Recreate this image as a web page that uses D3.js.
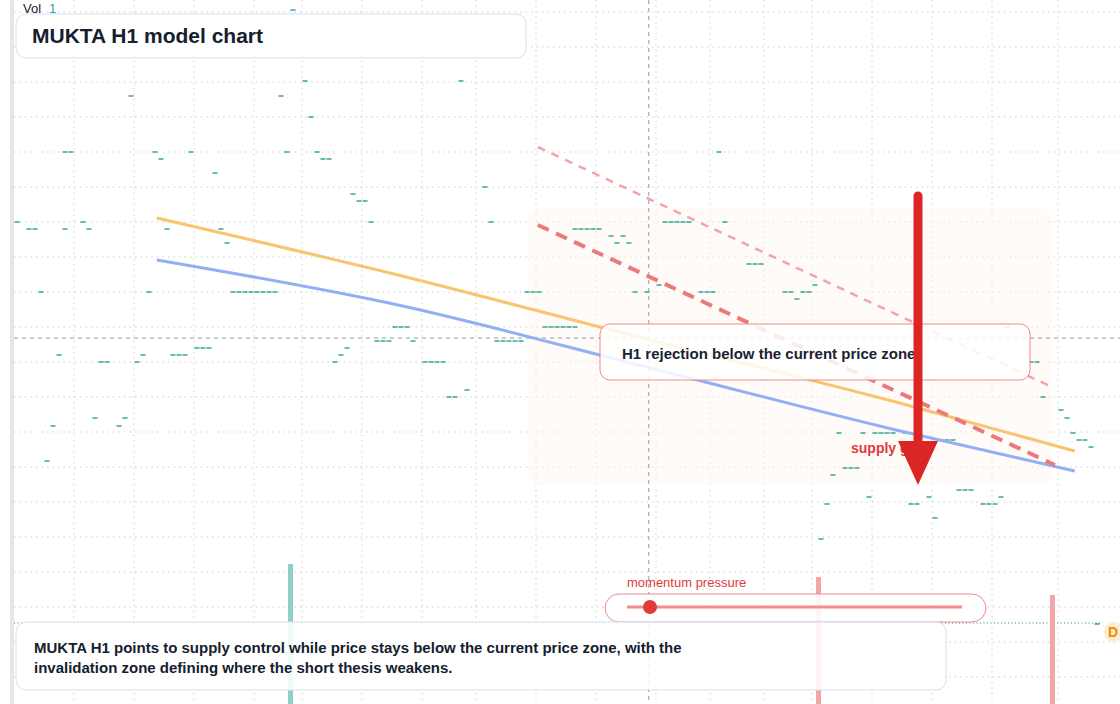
<!DOCTYPE html>
<html><head><meta charset="utf-8">
<script src="https://cdn.jsdelivr.net/npm/d3@7"></script>
<style>body{margin:0;background:#fff;font-family:"Liberation Sans",Arial,sans-serif}</style>
</head><body><svg id="c" width="1120" height="704"></svg>
<script>
// price ticks (bar index start, run length, price)
const candleIdx   = [46,19,44,48,74,49,8,23,29,45,50,117,51,24,33,78,56,57,0,11,59,79,108,118,2,8,12,25,34,93,99,101,35,100,102,122,107,133,4,22,36,85,103,105,114,128,131,130,63,88,165,60,66,80,30,55,7,21,26,54,14,20,53,68,169,75,72,171,174,175,13,18,6,17,176,137,141,143,148,154,177,179,5,138,136,157,142,152,164,135,149,161,153,134,180];
const candleLen   = [1,1,1,1,1,1,2,1,1,1,1,1,2,1,1,1,1,2,1,1,1,1,5,1,2,1,1,1,1,5,1,1,1,1,1,3,1,1,1,1,8,3,1,1,3,2,2,1,3,6,1,3,1,5,3,1,1,1,3,1,2,1,1,4,2,1,2,1,1,1,1,1,1,1,1,1,1,4,1,3,2,1,1,3,1,3,1,1,1,1,2,3,1,1,1];
const candlePrice = [69.4,60.8,60.8,62.3,62.3,58.7,55.2,55.2,55.2,55.2,55.2,55.2,54.5,54.5,53.1,51.7,51.0,50.3,48.2,48.2,48.2,48.2,48.2,48.2,47.5,47.5,47.5,47.5,47.5,47.5,46.8,46.8,46.1,46.1,46.1,44.0,41.9,41.9,41.2,41.2,41.2,41.2,41.2,41.2,41.2,41.2,41.2,40.5,37.7,37.7,37.7,36.3,36.3,36.3,35.6,35.6,34.9,34.9,34.9,34.9,34.2,34.2,34.2,34.2,34.2,31.4,30.7,30.7,29.4,28.6,28.6,28.6,27.8,27.8,27.1,27.1,27.1,27.1,27.1,26.4,26.4,25.7,24.3,23.6,22.9,21.4,20.7,20.7,20.7,20.0,20.0,20.0,18.6,16.5,8.0];
// volume
const volIdx = [46,134,173];
const volVal = [140,127,109];
const volColor = ['#8fd0c6','#f4a6a6','#f4a6a6'];
// model curves
const curveIdx    = [23.8,64,106,147,176.8];
const orangePrice = [48.6,42.9,36.4,30.2,25.3];
const bluePrice   = [44.4,39.9,33.6,27.4,23.3];
const redDash  = [[87.3,47.9],[173.5,23.9]];
const pinkDash = [[87.3,55.7],[173,31.7]];
const gridIdx = [10,20,30,40,48,58,68,77,87,97,107,116,125,133,143,153,163,174];
const gridPrice = d3.range(0,20).map(i => 69.2 - 3.5*i);

const svg = d3.select('#c');
const x = d3.scaleLinear().domain([0,1]).range([14,20]);
const y = d3.scaleLinear().domain([0,70.4]).range([704,0]);
const v = d3.scaleLinear().domain([0,140]).range([0,140]);

svg.append('rect').attr('x',10).attr('y',0).attr('width',4).attr('height',704).attr('fill','#e6e6e6');

// grid
svg.append('g').selectAll('line').data(gridIdx).join('line')
  .attr('x1',d=>x(d)).attr('x2',d=>x(d)).attr('y1',0).attr('y2',704)
  .attr('stroke','#cfcfcf').attr('stroke-dasharray','1.5,4');
svg.append('g').selectAll('line').data(gridPrice).join('line')
  .attr('x1',14).attr('x2',1120).attr('y1',d=>y(d)).attr('y2',d=>y(d))
  .attr('stroke','#cfcfcf').attr('stroke-dasharray','1.5,4');

// zone
svg.append('rect').attr('x',x(85.5)).attr('y',y(49.6)).attr('width',x(173)-x(85.5)).attr('height',y(21.9)-y(49.6))
  .attr('rx',14).attr('fill','#fdf6f0').attr('opacity',0.45);

// crosshair
svg.append('line').attr('x1',x(105.8)).attr('x2',x(105.8)).attr('y1',0).attr('y2',704)
  .attr('stroke','#999').attr('stroke-dasharray','4,4');
svg.append('line').attr('x1',14).attr('x2',1120).attr('y1',y(36.6)).attr('y2',y(36.6))
  .attr('stroke','#999').attr('stroke-dasharray','4,4');
svg.append('line').attr('x1',14).attr('x2',1100).attr('y1',y(8.1)).attr('y2',y(8.1))
  .attr('stroke','#1a8f7a').attr('stroke-dasharray','1,2.5');

// volume
svg.append('g').selectAll('rect').data(volIdx).join('rect')
  .attr('x',d=>x(d)+0.5-2.5).attr('width',5)
  .attr('y',(d,i)=>704-v(volVal[i])).attr('height',(d,i)=>v(volVal[i]))
  .attr('fill',(d,i)=>volColor[i]);

// price dashes
const segs = [];
candleIdx.forEach((s,i)=>{ for(let k=0;k<candleLen[i];k++) segs.push([s+k,candlePrice[i]]); });
svg.append('g').selectAll('line').data(segs).join('line')
  .attr('x1',d=>x(d[0])+0.5).attr('x2',d=>x(d[0])+5.5).attr('y1',d=>y(d[1])).attr('y2',d=>y(d[1]))
  .attr('stroke','#129a80').attr('stroke-width',1.3);

// curves
const ln = d3.line().x(d=>x(d[0])).y(d=>y(d[1])).curve(d3.curveMonotoneX);
svg.append('path').attr('d',ln(curveIdx.map((c,i)=>[c,orangePrice[i]]))).attr('fill','none')
  .attr('stroke','#f8c56e').attr('stroke-width',3);
svg.append('path').attr('d',ln(curveIdx.map((c,i)=>[c,bluePrice[i]]))).attr('fill','none')
  .attr('stroke','#93aff4').attr('stroke-width',3);
svg.append('path').attr('d',ln(pinkDash)).attr('stroke','#f3a5a5').attr('stroke-width',2.5).attr('stroke-dasharray','8,7');
svg.append('path').attr('d',ln(redDash)).attr('stroke','#ec7a7a').attr('stroke-width',4).attr('stroke-dasharray','12,8');

// rejection box
svg.append('rect').attr('x',600).attr('y',324).attr('width',430).attr('height',56).attr('rx',10)
  .attr('fill','rgba(255,255,255,0.85)').attr('stroke','#ef8a8a');
svg.append('text').attr('x',622).attr('y',359).attr('font-size',15).attr('font-weight','bold')
  .attr('fill','#1a2233').text('H1 rejection below the current price zone');

svg.append('text').attr('x',851).attr('y',453).attr('font-size',14).attr('font-weight','bold')
  .attr('fill','#e03a3a').text('supply gate');

// arrow
svg.append('line').attr('x1',918).attr('x2',918).attr('y1',196).attr('y2',445)
  .attr('stroke','#dc2626').attr('stroke-width',9).attr('stroke-linecap','round');
svg.append('path').attr('d','M898,441 L938,441 L918,485 Z').attr('fill','#dc2626');

// momentum
svg.append('text').attr('x',627).attr('y',587).attr('font-size',13).attr('fill','#e03a3a').text('momentum pressure');
svg.append('rect').attr('x',605).attr('y',594).attr('width',381).attr('height',28).attr('rx',14)
  .attr('fill','rgba(255,255,255,0.9)').attr('stroke','#ec8a8a');
svg.append('line').attr('x1',627).attr('x2',962).attr('y1',607).attr('y2',607).attr('stroke','#ee8e8e').attr('stroke-width',3);
svg.append('circle').attr('cx',650).attr('cy',607).attr('r',7).attr('fill','#e23b3b');

// D marker
svg.append('circle').attr('cx',1114).attr('cy',632).attr('r',10).attr('fill','#fdebd3');
svg.append('text').attr('x',1108).attr('y',637).attr('font-size',14).attr('font-weight','bold').attr('fill','#f08a00').text('D');

// title
svg.append('text').attr('x',23).attr('y',13).attr('font-size',13).attr('fill','#222').text('Vol');
svg.append('text').attr('x',49).attr('y',13).attr('font-size',13).attr('fill','#26a69a').text('1');
svg.append('rect').attr('x',16).attr('y',14).attr('width',510).attr('height',44).attr('rx',10)
  .attr('fill','rgba(255,255,255,0.92)').attr('stroke','#d4e1f7');
svg.append('text').attr('x',32).attr('y',43).attr('font-size',21).attr('font-weight','bold').attr('fill','#14202e').text('MUKTA H1 model chart');

// bottom note
svg.append('rect').attr('x',16).attr('y',622).attr('width',930).attr('height',68).attr('rx',10)
  .attr('fill','rgba(255,255,255,0.88)').attr('stroke','#d4e1f7');
const note = ['MUKTA H1 points to supply control while price stays below the current price zone, with the',
  'invalidation zone defining where the short thesis weakens.'];
svg.append('g').selectAll('text').data(note).join('text')
  .attr('x',34).attr('y',(d,i)=>653+i*20).attr('font-size',15).attr('font-weight','bold').attr('fill','#14202e').text(d=>d);
</script></body></html>
